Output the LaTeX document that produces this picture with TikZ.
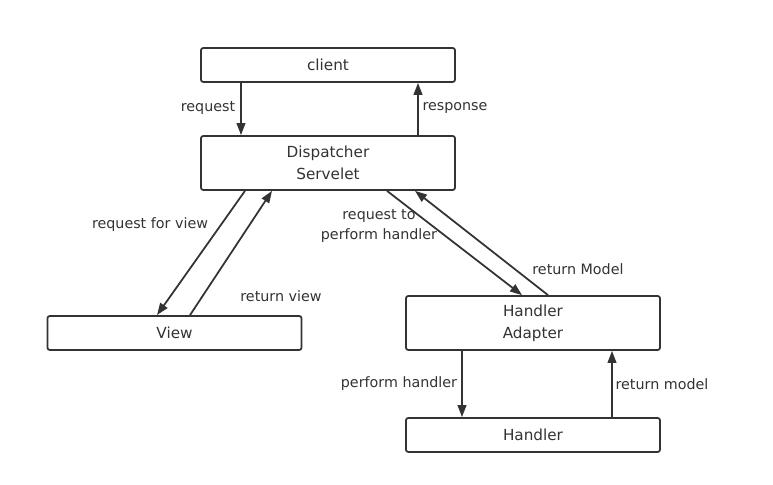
\documentclass[tikz,border=0pt]{standalone}
\usepackage{fontspec}
\setmainfont{DejaVu Sans}
\usetikzlibrary{arrows.meta}

\definecolor{ink}{HTML}{333333}

\tikzset{
	box/.style={draw=ink, line width=1.5pt, rounded corners=2pt, minimum width=7.62cm, minimum height=1.02cm, text=ink, inner sep=0pt},
	tallbox/.style={box, minimum height=1.62cm, align=center},
	flow/.style={draw=ink, line width=1.5pt, -{Triangle[length=0.36cm, width=0.26cm]}},
	lbl/.style={text=ink, font=\fontsize{12.2}{17}\selectfont}
}

\begin{document}
\begin{tikzpicture}[x=0.03cm, y=-0.03cm, font=\fontsize{13}{19}\selectfont]
	
	\fill[white] (0,0) rectangle (773,485);
	\useasboundingbox (0,0) rectangle (773,485);
	
	\node[box] (client) at (328,65) {client};
	\node[tallbox] (disp) at (328,163) {Dispatcher\\Servelet};
	\node[box] (view) at (174.5,333) {View};
	\node[tallbox] (adapter) at (533,323) {Handler\\Adapter};
	\node[box] (handler) at (533,435) {Handler};
	
	\draw[flow] ([xshift=-2.61cm]client.south) -- ([xshift=-2.61cm]disp.north);
	\draw[flow] ([xshift=2.7cm]disp.north) -- ([xshift=2.7cm]client.south);
	
	\draw[flow] ([xshift=-2.49cm]disp.south) -- ([xshift=-0.525cm]view.north);
	\draw[flow] ([xshift=0.465cm]view.north) -- ([xshift=-1.68cm]disp.south);
	
	\draw[flow] ([xshift=1.77cm]disp.south) -- ([xshift=-0.33cm]adapter.north);
	\draw[flow] ([xshift=0.45cm]adapter.north) -- ([xshift=2.61cm]disp.south);
	
	\draw[flow] ([xshift=-2.13cm]adapter.south) -- ([xshift=-2.13cm]handler.north);
	\draw[flow] ([xshift=2.37cm]handler.north) -- ([xshift=2.37cm]adapter.south);
	
	\node[lbl] (l-req) at (208,108) {request};
	\node[lbl] (l-resp) at (455,108) {response};
	\node[lbl] (l-reqview) at (150,225) {request for view};
	\node[lbl] (l-retview) at (281,296) {return view};
	\node[lbl, align=center] (l-reqhandler) at (379,226) {request to\\perform handler};
	\node[lbl] (l-retModel) at (578,269) {return Model};
	\node[lbl] (l-perform) at (399,384) {perform handler};
	\node[lbl] (l-retmodel) at (662,384) {return model};
	
\end{tikzpicture}
\end{document}
